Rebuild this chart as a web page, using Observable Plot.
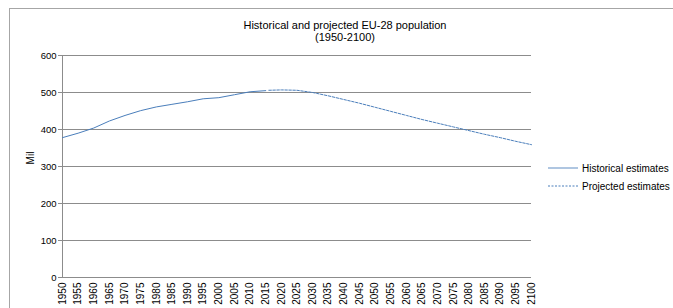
<!DOCTYPE html>
<html>
<head>
<meta charset="utf-8">
<script src="https://cdn.jsdelivr.net/npm/d3@7"></script>
<script src="https://cdn.jsdelivr.net/npm/@observablehq/plot@0.6"></script>
<style>
  html, body { margin: 0; padding: 0; background: #fff; }
  #wrap { position: relative; width: 673px; height: 308px; overflow: hidden; font-family: "Liberation Sans", Arial, sans-serif; }
  #frame { position: absolute; left: 9px; top: 8px; width: 800px; height: 500px; border: 1px solid #a6a6a6; }
  #title { position: absolute; left: 0; width: 690px; top: 19px; text-align: center; font-size: 11px; line-height: 12px; color: #000; }
  #chart { position: absolute; left: 0; top: 45px; }
  #ylab { position: absolute; left: 30px; top: 158px; transform: translate(-50%, -50%) rotate(-90deg); font-size: 10px; color: #000; white-space: nowrap; }
  #legend { position: absolute; left: 548px; top: 159px; font-size: 10px; color: #000; }
  .item { display: flex; align-items: center; height: 18px; }
  .item svg { margin-right: 4px; }
</style>
</head>
<body>
<div id="wrap">
  <div id="frame"></div>
  <div id="title">Historical and projected EU-28 population<br>(1950-2100)</div>
  <div id="chart"></div>
  <div id="ylab">Mil</div>
  <div id="legend"></div>
</div>
<script>
const histYears = [1950,1955,1960,1965,1970,1975,1980,1985,1990,1995,2000,2005,2010,2015];
const histValues = [378,390,404,423,438,451,461,468,475,483,486,494,502,505];
const projYears = [2016,2020,2025,2030,2035,2040,2045,2050,2055,2060,2065,2070,2075,2080,2085,2090,2095,2100];
const projValues = [506,507,506,500,491,481,471,460,449,438,427,417,407,397,387,378,368,359];
const xTicks = d3.range(1950, 2101, 5);
const yTicks = [0,100,200,300,400,500,600];
const seriesNames = ["Historical estimates", "Projected estimates"];
const seriesColors = ["#4a7ebb", "#4a7ebb"];

const hist = histYears.map((y, i) => ({year: y, value: histValues[i]}));
const proj = projYears.map((y, i) => ({year: y, value: projValues[i]}));

const chart = Plot.plot({
  width: 673,
  height: 263,
  marginLeft: 62,
  marginRight: 142,
  marginTop: 10,
  marginBottom: 31,
  style: {fontFamily: "Liberation Sans, Arial, sans-serif", fontSize: "9px", color: "#000", background: "transparent"},
  x: {domain: [1950, 2100]},
  y: {domain: [0, 600]},
  marks: [
    Plot.ruleY(yTicks, {stroke: "#8c8c8c", strokeWidth: 1, strokeOpacity: 1}),
    Plot.ruleX([1950], {stroke: "#8c8c8c", strokeWidth: 1}),
    Plot.axisX({ticks: xTicks, tickFormat: d => String(d), tickRotate: -90, tickSize: 0, tickPadding: 5, fontSize: 10, label: null}),
    Plot.axisY({ticks: yTicks, tickSize: 4, tickPadding: 2, stroke: "#8c8c8c", fontSize: 9.5, label: null}),
    Plot.line(hist, {x: "year", y: "value", stroke: seriesColors[0], strokeWidth: 1}),
    Plot.line(proj, {x: "year", y: "value", stroke: seriesColors[1], strokeWidth: 1, strokeDasharray: "2.5,1.5"})
  ]
});
document.getElementById("chart").appendChild(chart);

const legend = document.getElementById("legend");
seriesNames.forEach((name, i) => {
  const div = document.createElement("div");
  div.className = "item";
  const dash = i === 1 ? 'stroke-dasharray="2,1.5"' : '';
  const col = i === 0 ? "#95b3d7" : seriesColors[i];
  div.innerHTML = `<svg width="30" height="4"><line x1="0" x2="30" y1="2" y2="2" stroke="${col}" stroke-width="${i===0?1.5:1}" ${dash}/></svg><span>${name}</span>`;
  legend.appendChild(div);
});
</script>
</body>
</html>
